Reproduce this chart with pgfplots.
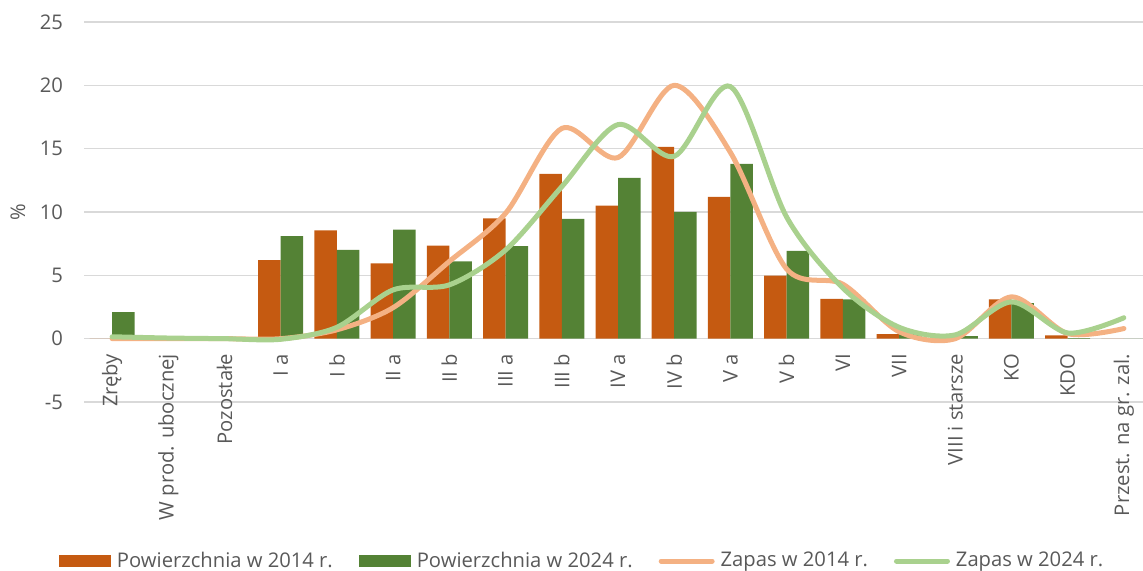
\documentclass[border=0pt]{standalone}
\usepackage{fontspec}
\setmainfont{Open Sans}
\usepackage{pgfplots}
\pgfplotsset{compat=1.18}
\definecolor{bo}{HTML}{C55A11}
\definecolor{bg}{HTML}{548235}
\definecolor{lo}{HTML}{F4B183}
\definecolor{lg}{HTML}{A9D18E}
\definecolor{txt}{HTML}{595959}
\definecolor{gridc}{HTML}{D9D9D9}
\newcommand{\lf}{\fontsize{10.1}{12}\selectfont}
\begin{document}
\begin{tikzpicture}
\useasboundingbox (-42pt,-84.5pt) rectangle (529.5pt,201pt);
\begin{axis}[
  at={(0,0)}, anchor=south west,
  scale only axis, width=529.5pt, height=190pt,
  xmin=-0.5, xmax=18.34, ymin=-5, ymax=25,
  ytick={-5,0,5,10,15,20,25},
  xtick={0,...,18},
  xticklabels={Zręby, W prod. ubocznej, Pozostałe, I a, I b, II a, II b, III a, III b, IV a, IV b, V a, V b, VI, VII, VIII i starsze, KO, KDO, Przest. na gr. zal.},
  axis line style={draw=none},
  major tick length=0pt,
  ymajorgrids, grid style={gridc, line width=0.75pt},
  font=\lf,
  tick label style={color=txt, font=\lf},
  /pgf/number format/assume math mode=true,
  yticklabel style={xshift=-7pt},
  xticklabel style={yshift=27.5pt, rotate=90, anchor=east},
  ylabel={\%},
  every axis y label/.style={at={(rel axis cs:0,0.5)}, xshift=-33pt, rotate=90, anchor=center, color=txt},
  legend columns=4,
  legend style={draw=none, fill=none, inner sep=0pt, outer sep=0pt,
    at={(rel axis cs:0,0)}, anchor=west, xshift=-12.5pt, yshift=-79.5pt,
    font=\lf, text=txt,
    nodes={inner sep=0pt},
    /tikz/every odd column/.append style={column sep=3pt},
    /tikz/every even column/.append style={column sep=13pt}},
]
\addplot[ybar, bar width=11.25pt, bar shift=-5.625pt, fill=bo, draw=none,
  legend image code/.code={\fill[bo] (0pt,-3pt) rectangle (26pt,3pt);}]
  coordinates {(0,0) (1,0) (2,0) (3,6.2) (4,8.55) (5,5.95) (6,7.35) (7,9.5) (8,13.0) (9,10.5) (10,15.15) (11,11.2) (12,4.97) (13,3.15) (14,0.35) (15,0.03) (16,3.1) (17,0.25) (18,0)};
\addlegendentry{Powierzchnia w 2014 r.}
\addplot[ybar, bar width=11.25pt, bar shift=5.625pt, fill=bg, draw=none,
  legend image code/.code={\fill[bg] (0pt,-3pt) rectangle (26pt,3pt);}]
  coordinates {(0,2.1) (1,0) (2,0) (3,8.1) (4,7.0) (5,8.6) (6,6.1) (7,7.3) (8,9.45) (9,12.7) (10,10.0) (11,13.8) (12,6.94) (13,3.1) (14,0.4) (15,0.2) (16,2.8) (17,0.05) (18,0)};
\addlegendentry{Powierzchnia w 2024 r.}
\addplot[lo, line width=2.5pt, smooth, line cap=round,
  legend image code/.code={\draw[lo, line width=2.5pt, line cap=round] (1pt,0pt) -- (26.5pt,0pt);}]
  coordinates {(0,0) (1,0) (2,0) (3,0) (4,0.7) (5,2.45) (6,6.1) (7,9.9) (8,16.6) (9,14.3) (10,20.0) (11,14.7) (12,5.5) (13,4.3) (14,0.55) (15,0.0) (16,3.3) (17,0.4) (18,0.8)};
\addlegendentry{Zapas w 2014 r.}
\addplot[lg, line width=2.5pt, smooth, line cap=round,
  legend image code/.code={\draw[lg, line width=2.5pt, line cap=round] (1pt,0pt) -- (26.5pt,0pt);}]
  coordinates {(0,0.15) (1,0.05) (2,0) (3,-0.05) (4,0.9) (5,3.85) (6,4.25) (7,7.0) (8,12.0) (9,16.9) (10,14.4) (11,19.9) (12,9.6) (13,4.0) (14,0.9) (15,0.3) (16,2.9) (17,0.45) (18,1.65)};
\addlegendentry{Zapas w 2024 r.}
\end{axis}
\end{tikzpicture}
\end{document}
